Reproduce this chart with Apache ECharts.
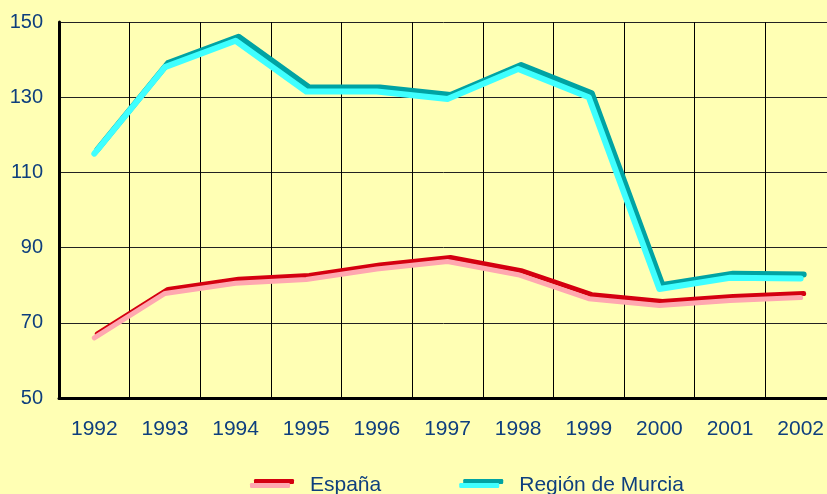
<!DOCTYPE html>
<html><head><meta charset="utf-8">
<script src="https://cdn.jsdelivr.net/npm/echarts@6/dist/echarts.min.js"></script>
<style>html,body{margin:0;padding:0;background:#FFFFB4;}#c{width:827px;height:494px;}</style>
</head><body><div id="c"></div>
<script>
const years = ['1992','1993','1994','1995','1996','1997','1998','1999','2000','2001','2002'];
const espana = [66, 77.8, 80.5, 81.5, 84.3, 86.3, 82.8, 76.4, 74.6, 75.9, 76.7];
const murcia = [115, 138, 145, 131.5, 131.5, 129.5, 137.5, 130, 79, 82, 81.8];
const yTicks = {min: 50, max: 150, interval: 20};

const txt = '#0E3F7E';
const font = 'Liberation Sans';
const chart = echarts.init(document.getElementById('c'));
chart.setOption({
  backgroundColor: '#FFFFB4',
  animation: false,
  grid: {left: 59, width: 777, top: 22, height: 376, outerBoundsMode: 'none', containLabel: false},
  legend: {
    top: 475, left: 250, padding: 0, itemGap: 78, itemWidth: 40, itemHeight: 5, icon: 'roundRect',
    textStyle: {color: txt, fontSize: 21, fontFamily: font, padding: [0, 0, 0, 15]},
    data: [
      {name: 'España', itemStyle: {color: '#FFA8B0', shadowColor: '#D40010', shadowBlur: 0, shadowOffsetX: 4, shadowOffsetY: -4}},
      {name: 'Región de Murcia', itemStyle: {color: '#3FFFFF', shadowColor: '#00A3A3', shadowBlur: 0, shadowOffsetX: 4, shadowOffsetY: -4}}
    ]
  },
  xAxis: {
    type: 'category', data: years, boundaryGap: true,
    axisLine: {lineStyle: {color: '#000', width: 3}},
    axisTick: {show: false},
    axisLabel: {color: txt, fontSize: 21, fontFamily: font, margin: 21},
    splitLine: {show: true, lineStyle: {color: '#000', width: 1}}
  },
  yAxis: {
    type: 'value', min: yTicks.min, max: yTicks.max, interval: yTicks.interval,
    axisLine: {show: true, lineStyle: {color: '#000', width: 3}},
    axisTick: {show: false},
    axisLabel: {color: txt, fontSize: 20, fontFamily: font, margin: 16},
    splitLine: {show: true, lineStyle: {color: '#222', width: 1}}
  },
  series: [
    {name: 'España', type: 'line', data: espana, showSymbol: false, symbol: 'none',
     color: '#FFA8B0',
     lineStyle: {color: '#FFA8B0', width: 5, cap: 'round', join: 'round',
       shadowColor: '#D40010', shadowBlur: 0, shadowOffsetX: 3, shadowOffsetY: -4}},
    {name: 'Región de Murcia', type: 'line', data: murcia, showSymbol: false, symbol: 'none',
     color: '#3FFFFF',
     lineStyle: {color: '#3FFFFF', width: 6, cap: 'round', join: 'round',
       shadowColor: '#00A3A3', shadowBlur: 0, shadowOffsetX: 3, shadowOffsetY: -4}}
  ]
});
</script></body></html>
